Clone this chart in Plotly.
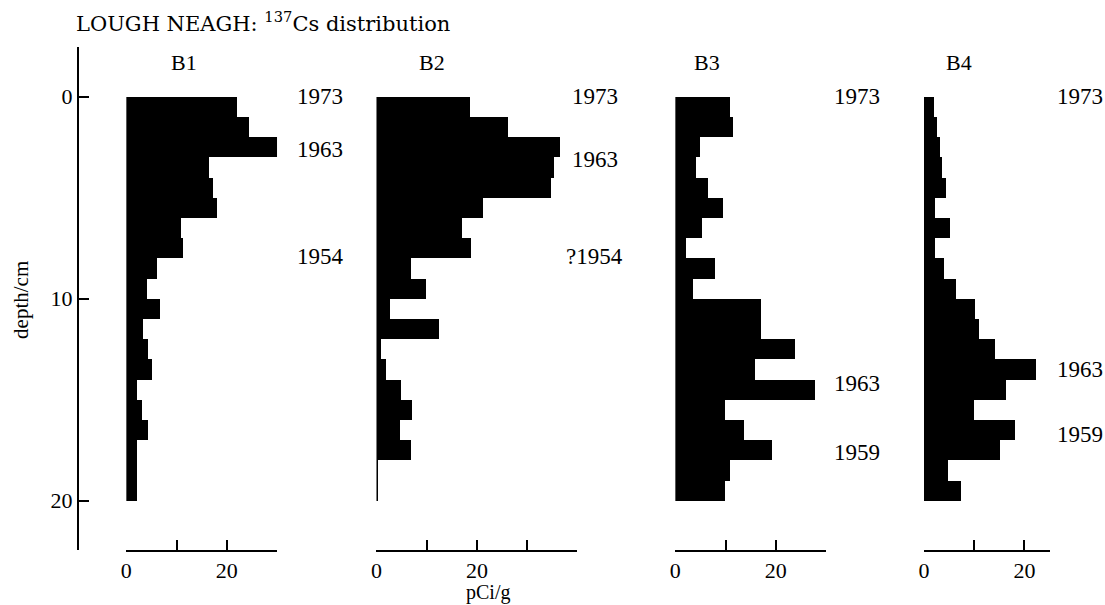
import plotly.graph_objects as go

# ---------------- data (pCi/g per 1 cm depth slice, 0-20 cm) ----------------
depth_top = list(range(20))           # top of each 1 cm slice
cores = ["B1", "B2", "B3", "B4"]
b1 = [22.0, 24.4, 30.7, 16.6, 17.3, 18.2, 11.0, 11.4, 6.2, 4.2,
      6.8, 3.4, 4.4, 5.1, 2.2, 3.2, 4.3, 2.1, 2.1, 2.1]
b2 = [18.7, 26.2, 36.6, 35.4, 34.8, 21.4, 17.1, 18.9, 6.9, 10.0,
      2.8, 12.5, 0.9, 2.0, 4.9, 7.1, 4.8, 6.9, 0.3, 0.3]
b3 = [11.0, 11.5, 4.9, 4.1, 6.5, 9.5, 5.3, 2.1, 7.9, 3.6,
      17.1, 17.1, 23.9, 16.0, 27.8, 10.0, 13.8, 19.4, 11.0, 10.0]
b4 = [1.9, 2.6, 3.1, 3.6, 4.4, 2.1, 5.1, 2.2, 3.9, 6.3,
      10.2, 11.0, 14.2, 22.3, 16.3, 10.0, 18.2, 15.1, 4.8, 7.4]
series = [b1, b2, b3, b4]
axis_max = [30, 40, 30, 25]
major_ticks = [0, 20]
minor_step = 10
year_labels = [
    [("1973", 0.0), ("1963", 2.6), ("1954", 7.9)],
    [("1973", 0.0), ("1963", 3.1), ("?1954", 7.9)],
    [("1973", 0.0), ("1963", 14.2), ("1959", 17.6)],
    [("1973", 0.0), ("1963", 13.5), ("1959", 16.7)],
]
ytick_vals = [0, 10, 20]

# ---------------- layout geometry (pixels) ----------------
W, H = 1105, 605
FONT = "Liberation Serif"
TITLE_FONT = "DejaVu Serif"
px_per_unit = 5.05
panel_zero = [121, 372.5, 673, 923]
year_x = [316, 592, 856, 1080]
core_label_x = [179, 428, 705, 958]
y_top_px, y_bot_px = 47, 550
d0_px, d20_px = 96.7, 500.7
cm_px = (d20_px - d0_px) / 20.0
y_range = [(y_bot_px - d0_px) / cm_px, (y_top_px - d0_px) / cm_px]


def fx(px):
    return px / W


def fy(py):
    return 1 - py / H


fig = go.Figure()
centers = [d + 0.5 for d in depth_top]
for i, vals in enumerate(series):
    xa = "x" if i == 0 else f"x{i+1}"
    fig.add_trace(go.Bar(
        x=vals, y=centers, orientation="h", width=1.0,
        marker=dict(color="black", line=dict(width=0)),
        xaxis=xa, yaxis="y", name=cores[i], showlegend=False,
        hoverinfo="x+y",
    ))

layout = dict(
    width=W, height=H,
    margin=dict(l=0, r=0, t=0, b=0),
    paper_bgcolor="white", plot_bgcolor="white",
    bargap=0, barmode="overlay",
    font=dict(family=FONT, color="black", size=22),
    yaxis=dict(
        domain=[fy(y_bot_px), fy(y_top_px)], range=y_range,
        anchor="free", position=fx(72), side="left",
        showline=True, linecolor="black", linewidth=1.5,
        ticks="inside", ticklen=11, tickwidth=1.5, tickcolor="black",
        tickvals=ytick_vals, ticktext=[str(v) for v in ytick_vals],
        showgrid=False, zeroline=False,
        tickfont=dict(family=FONT, size=22),
    ),
)
for i in range(4):
    key = "xaxis" if i == 0 else f"xaxis{i+1}"
    x0 = panel_zero[i]
    x1 = x0 + axis_max[i] * px_per_unit
    layout[key] = dict(
        domain=[fx(x0), fx(x1)], range=[0, axis_max[i]],
        anchor="y", side="bottom",
        showline=True, linecolor="black", linewidth=1.5,
        ticks="inside", ticklen=10, tickwidth=1.5, tickcolor="black",
        tickmode="array", tickvals=major_ticks,
        ticktext=[str(v) for v in major_ticks],
        minor=dict(tick0=0, dtick=minor_step, ticks="inside", ticklen=10,
                   tickwidth=1.5, tickcolor="black", showgrid=False),
        showgrid=False, zeroline=False,
        tickfont=dict(family=FONT, size=22),
    )
fig.update_layout(**layout)

ann = []
ann.append(dict(text="LOUGH NEAGH: <sup>137</sup>Cs distribution",
                x=fx(68), y=fy(22), xref="paper", yref="paper",
                xanchor="left", yanchor="middle", showarrow=False,
                font=dict(family=TITLE_FONT, size=21)))
for i in range(4):
    ann.append(dict(text=cores[i], x=fx(core_label_x[i]), y=fy(62),
                    xref="paper", yref="paper", xanchor="center",
                    yanchor="middle", showarrow=False,
                    font=dict(family=FONT, size=22)))
    for txt, d in year_labels[i]:
        ann.append(dict(text=txt, x=fx(year_x[i]), y=d,
                        xref="paper", yref="y", xanchor="center",
                        yanchor="middle", showarrow=False,
                        font=dict(family=FONT, size=23)))
ann.append(dict(text="pCi/g", x=fx(485), y=fy(592), xref="paper", yref="paper",
                xanchor="center", yanchor="middle", showarrow=False,
                font=dict(family=FONT, size=20)))
ann.append(dict(text="depth/cm", x=fx(15), y=fy(300), xref="paper", yref="paper",
                xanchor="center", yanchor="middle", showarrow=False,
                textangle=-90, font=dict(family=FONT, size=21)))
fig.update_layout(annotations=ann)

fig.write_html("out.html")
